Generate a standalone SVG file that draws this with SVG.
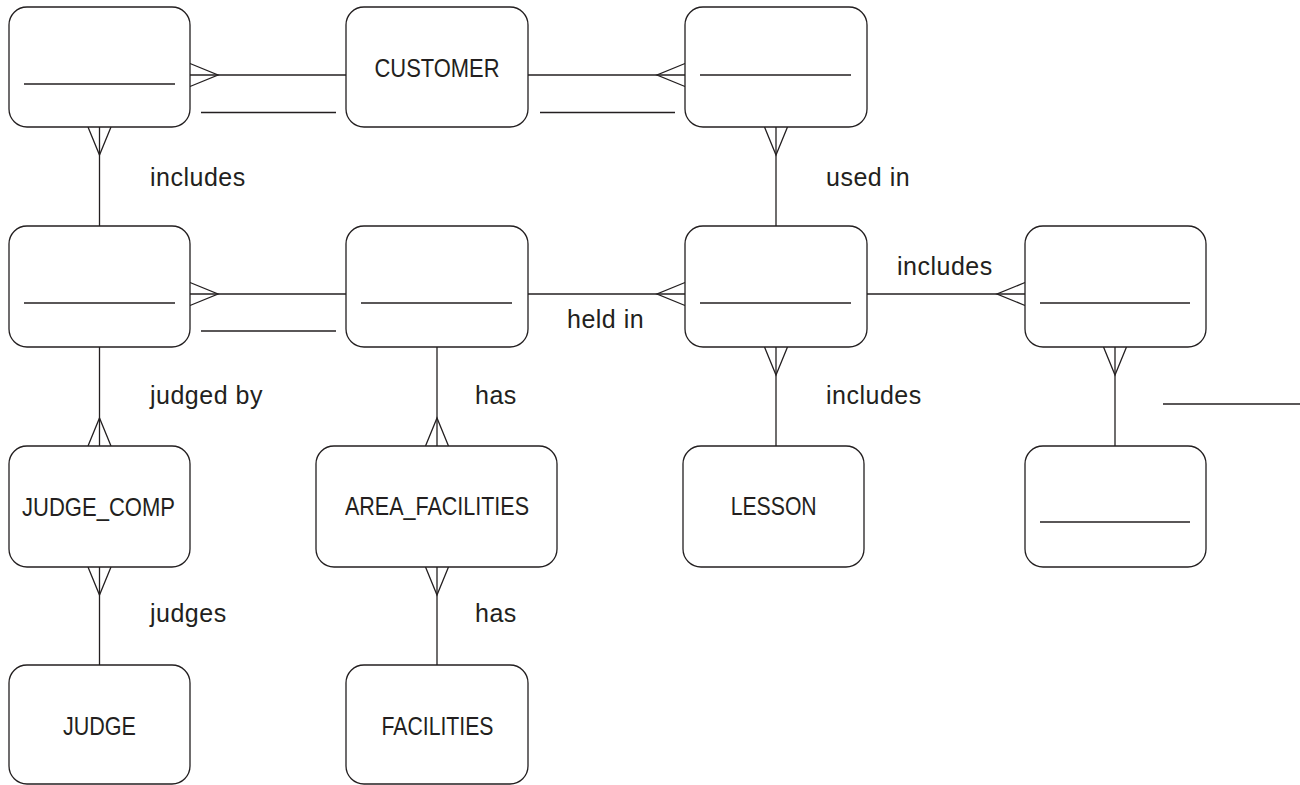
<svg xmlns="http://www.w3.org/2000/svg" xmlns:xlink="http://www.w3.org/1999/xlink" width="1300" height="785" viewBox="0 0 1300 785">
<style>
.box{fill:#fff;stroke:#231f20;stroke-width:1.3}
.ln{fill:none;stroke:#231f20;stroke-width:1.3}
.name{font-family:"Liberation Sans",Arial,sans-serif;font-size:25px;fill:#231f20;text-anchor:middle}
.lbl{font-family:"Liberation Sans",Arial,sans-serif;font-size:25px;letter-spacing:0.5px;fill:#231f20}
</style>
<defs>
<path id="crow" class="ln" d="M0,-11.5 L28,0 L0,11.5"/>
</defs>
<rect width="1300" height="785" fill="#fff"/>

<g id="connectors">
  <line class="ln" x1="190" y1="75" x2="346" y2="75"/>
  <use xlink:href="#crow" transform="translate(190,75)"/>
  <line class="ln" x1="528" y1="75" x2="685" y2="75"/>
  <use xlink:href="#crow" transform="translate(685,75) rotate(180)"/>
  <line class="ln" x1="99.5" y1="127" x2="99.5" y2="226"/>
  <use xlink:href="#crow" transform="translate(99.5,127) rotate(90)"/>
  <line class="ln" x1="776" y1="127" x2="776" y2="226"/>
  <use xlink:href="#crow" transform="translate(776,127) rotate(90)"/>
  <line class="ln" x1="190" y1="294" x2="346" y2="294"/>
  <use xlink:href="#crow" transform="translate(190,294)"/>
  <line class="ln" x1="528" y1="294" x2="685" y2="294"/>
  <use xlink:href="#crow" transform="translate(685,294) rotate(180)"/>
  <line class="ln" x1="867" y1="294" x2="1025" y2="294"/>
  <use xlink:href="#crow" transform="translate(1025,294) rotate(180)"/>
  <line class="ln" x1="99.5" y1="347" x2="99.5" y2="446"/>
  <use xlink:href="#crow" transform="translate(99.5,446) rotate(-90)"/>
  <line class="ln" x1="437" y1="347" x2="437" y2="446"/>
  <use xlink:href="#crow" transform="translate(437,446) rotate(-90)"/>
  <line class="ln" x1="776" y1="347" x2="776" y2="446"/>
  <use xlink:href="#crow" transform="translate(776,347) rotate(90)"/>
  <line class="ln" x1="1115" y1="347" x2="1115" y2="446"/>
  <use xlink:href="#crow" transform="translate(1115,347) rotate(90)"/>
  <line class="ln" x1="99.5" y1="567" x2="99.5" y2="665"/>
  <use xlink:href="#crow" transform="translate(99.5,567) rotate(90)"/>
  <line class="ln" x1="437" y1="567" x2="437" y2="665"/>
  <use xlink:href="#crow" transform="translate(437,567) rotate(90)"/>
  <line class="ln" x1="201" y1="112.5" x2="336" y2="112.5"/>
  <line class="ln" x1="540" y1="112.5" x2="675" y2="112.5"/>
  <line class="ln" x1="201" y1="331" x2="336" y2="331"/>
  <line class="ln" x1="1163" y1="404" x2="1300" y2="404"/>
  <text class="lbl" x="150" y="186">includes</text>
  <text class="lbl" x="826" y="186">used in</text>
  <text class="lbl" x="897" y="275">includes</text>
  <text class="lbl" x="567" y="328">held in</text>
  <text class="lbl" x="150" y="404">judged by</text>
  <text class="lbl" x="475" y="404">has</text>
  <text class="lbl" x="826" y="404">includes</text>
  <text class="lbl" x="150" y="622">judges</text>
  <text class="lbl" x="475" y="622">has</text>
</g>

<g id="entity-a"><rect class="box" x="9" y="7" width="181" height="120" rx="18"/><line class="ln" x1="24" y1="84" x2="175" y2="84"/></g>
<g id="customer"><rect class="box" x="346" y="7" width="182" height="120" rx="18"/><text class="name" x="437" y="76.5" textLength="125" lengthAdjust="spacingAndGlyphs">CUSTOMER</text></g>
<g id="entity-c"><rect class="box" x="685" y="7" width="182" height="120" rx="18"/><line class="ln" x1="700" y1="75" x2="851" y2="75"/></g>

<g id="entity-d"><rect class="box" x="9" y="226" width="181" height="121" rx="18"/><line class="ln" x1="24" y1="303" x2="175" y2="303"/></g>
<g id="entity-e"><rect class="box" x="346" y="226" width="182" height="121" rx="18"/><line class="ln" x1="361" y1="303" x2="512" y2="303"/></g>
<g id="entity-f"><rect class="box" x="685" y="226" width="182" height="121" rx="18"/><line class="ln" x1="700" y1="303" x2="851" y2="303"/></g>
<g id="entity-g"><rect class="box" x="1025" y="226" width="181" height="121" rx="18"/><line class="ln" x1="1040" y1="303" x2="1190" y2="303"/></g>

<g id="judge-comp"><rect class="box" x="9" y="446" width="181" height="121" rx="18"/><text class="name" x="98.5" y="516" textLength="153" lengthAdjust="spacingAndGlyphs">JUDGE_COMP</text></g>
<g id="area-facilities"><rect class="box" x="316" y="446" width="241" height="121" rx="18"/><text class="name" x="437" y="515" textLength="184" lengthAdjust="spacingAndGlyphs">AREA_FACILITIES</text></g>
<g id="lesson"><rect class="box" x="683" y="446" width="181" height="121" rx="18"/><text class="name" x="773.7" y="515" textLength="86" lengthAdjust="spacingAndGlyphs">LESSON</text></g>
<g id="entity-k"><rect class="box" x="1025" y="446" width="181" height="121" rx="18"/><line class="ln" x1="1040" y1="522" x2="1190" y2="522"/></g>

<g id="judge"><rect class="box" x="9" y="665" width="181" height="119" rx="18"/><text class="name" x="99.4" y="735" textLength="73" lengthAdjust="spacingAndGlyphs">JUDGE</text></g>
<g id="facilities"><rect class="box" x="346" y="665" width="182" height="119" rx="18"/><text class="name" x="437.5" y="735" textLength="112" lengthAdjust="spacingAndGlyphs">FACILITIES</text></g>
</svg>
